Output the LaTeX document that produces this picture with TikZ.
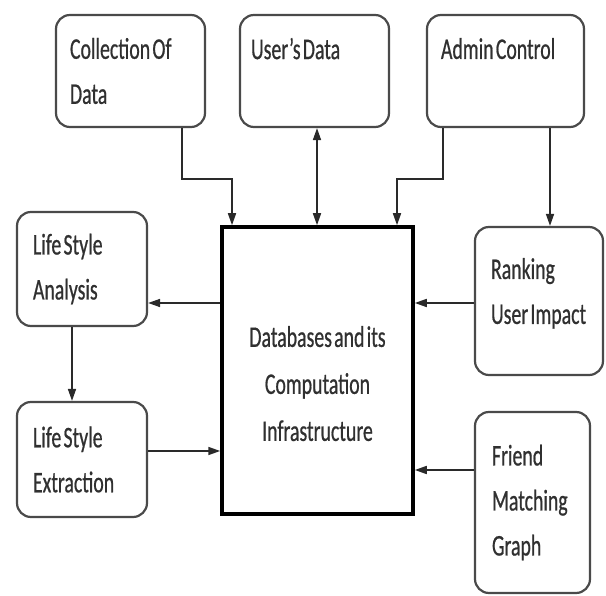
\documentclass[tikz,border=0pt]{standalone}
\usepackage{fontspec}
\setmainfont{Carlito}[FakeStretch=0.66, WordSpace={0.5,0,0}, FakeBold=0.6]
\usetikzlibrary{arrows.meta}
\definecolor{boxgray}{HTML}{4A4A4A}
\definecolor{txtgray}{HTML}{303030}
\definecolor{arrgray}{HTML}{2A2A2A}
\begin{document}
\begin{tikzpicture}[x=1pt,y=-1pt,
  rbox/.style={draw=boxgray, line width=2.2pt, rounded corners=14pt, fill=white,
    inner xsep=14pt, inner ysep=0pt, align=flush left, text=txtgray,
    font=\fontsize{30}{45}\selectfont},
  cbox/.style={draw=black, line width=3.5pt, fill=white, align=center,
    text=txtgray, font=\fontsize{30}{47}\selectfont},
  arr/.style={draw=arrgray, line width=1.6pt, -{Triangle[length=12pt,width=8pt]}},
  darr/.style={draw=arrgray, line width=1.6pt, {Triangle[length=12pt,width=8pt]}-{Triangle[length=12pt,width=8pt]}}
]
\useasboundingbox (0,0) rectangle (606,596);
% top row
\node[rbox, text width=121pt, minimum height=112pt] (coll) at (130.5,71) {Collection Of\\Data};
\node[rbox, inner xsep=11pt, text width=127pt, minimum height=112pt] (user) at (314.5,71) {User's Data\\\mbox{}};
\node[rbox, text width=129pt, minimum height=112pt] (admin) at (505.5,71) {Admin Control\\\mbox{}};
% centre
\node[cbox, minimum width=191pt, minimum height=287pt] (cent) at (317.5,370.5) {\mbox{}\\Databases and its\\Computation\\Infrastructure};
% left
\node[rbox, inner xsep=16pt, text width=98pt, minimum height=114pt] (lsa) at (82,269) {Life Style\\Analysis};
\node[rbox, inner xsep=16pt, text width=98pt, minimum height=115pt] (lse) at (82,459.5) {Life Style\\Extraction};
% right
\node[rbox, inner xsep=16pt, text width=96pt, minimum height=148pt] (rank) at (539,301) {Ranking\\User Impact\\[-25pt]\mbox{}};
\node[rbox, inner xsep=17pt, text width=81pt, minimum height=181pt] (friend) at (532.5,502.5) {Friend\\Matching\\Graph};
% connectors
\draw[arr] (coll.south -| 182,0) -- (182,179) -| (cent.north -| 232,0);
\draw[darr] (user.south -| 317,0) -- (cent.north -| 317,0);
\draw[arr] (admin.south -| 443,0) -- (443,179) -| (cent.north -| 397,0);
\draw[arr] (admin.south -| 550,0) -- (rank.north -| 550,0);
\draw[arr] (cent.west |- 0,303) -- (lsa.east |- 0,303);
\draw[arr] (lsa.south -| 72,0) -- (lse.north -| 72,0);
\draw[arr] (lse.east |- 0,451) -- (cent.west |- 0,451);
\draw[arr] (rank.west |- 0,303) -- (cent.east |- 0,303);
\draw[arr] (friend.west |- 0,470) -- (cent.east |- 0,470);
\end{tikzpicture}
\end{document}
